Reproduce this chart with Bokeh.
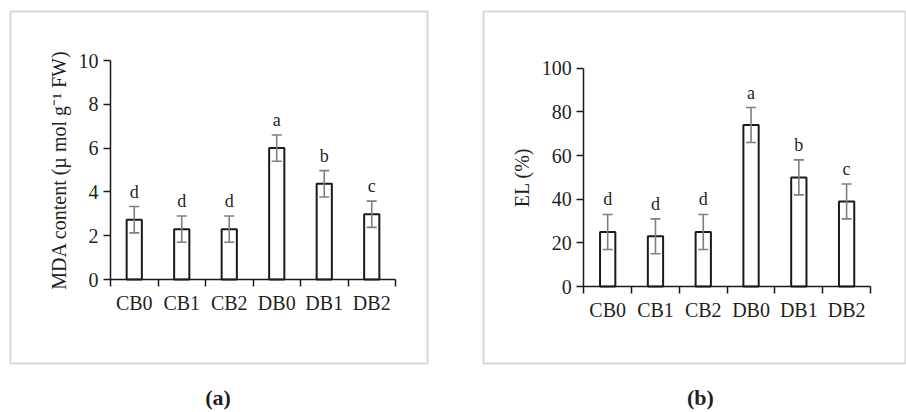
from bokeh.plotting import figure
from bokeh.layouts import row, column
from bokeh.models import (ColumnDataSource, Range1d, FixedTicker, Whisker, TeeHead, Div)
from bokeh.core.properties import value
from bokeh.embed import file_html
from bokeh.resources import INLINE

# Treatments
categories = ["CB0", "CB1", "CB2", "DB0", "DB1", "DB2"]

# (a) MDA content
mda_mean = [2.73, 2.30, 2.30, 6.00, 4.37, 2.98]
mda_err = [0.6, 0.6, 0.6, 0.6, 0.6, 0.6]
mda_letters = ["d", "d", "d", "a", "b", "c"]
mda_ticks = [0, 2, 4, 6, 8, 10]

# (b) Electrolyte leakage
el_mean = [25, 23, 25, 74, 50, 39]
el_err = [8, 8, 8, 8, 8, 8]
el_letters = ["d", "d", "d", "a", "b", "c"]
el_ticks = [0, 20, 40, 60, 80, 100]

FONT = "Liberation Serif"
TEXT = "#1f1f1f"
AXIS = "#1a1a1a"
H = 376        # chart area; the panel tags sit in a strip below it
TAG_H = 36


def panel(means, errs, letters, yticks, ylabel, width, box, axes_px):
    """box: light frame (left, right, top, bottom) in canvas px;
    axes_px: where the value axes sit (left, right, top, bottom) in canvas px."""
    bl, br, bt, bb = box
    al, ar, at, ab = axes_px
    n = len(categories)
    ymin, ymax = yticks[0], yticks[-1]

    # extend the data ranges so the frame fills the light box while the
    # axes stay at their own positions inside it
    sx = (ar - al) / n
    sy = (ab - at) / (ymax - ymin)
    x_range = Range1d(-(al - bl) / sx, n + (br - ar) / sx)
    y_range = Range1d(ymin - (bb - ab) / sy, ymax + (at - bt) / sy)

    pos = [i + 0.5 for i in range(n)]
    src = ColumnDataSource(dict(
        x=pos, mean=means,
        upper=[m + e for m, e in zip(means, errs)],
        lower=[m - e for m, e in zip(means, errs)],
        letter=letters,
    ))
    p = figure(width=width, height=H, output_backend="svg", toolbar_location=None,
               x_range=x_range, y_range=y_range,
               min_border_left=bl, min_border_right=width - br,
               min_border_top=bt, min_border_bottom=H - bb)
    p.outline_line_color = "#d9d9d9"
    p.outline_line_width = 2
    p.background_fill_color = "white"
    p.border_fill_color = "white"
    p.grid.visible = False

    p.vbar(x="x", top="mean", bottom=0, width=0.32, source=src,
           fill_color="white", line_color=AXIS, line_width=2)
    whisk_col = "#7f7f7f"
    p.add_layout(Whisker(source=src, base="x", upper="upper", lower="lower",
                         line_color=whisk_col, line_width=1.6, level="overlay",
                         upper_head=TeeHead(size=10, line_color=whisk_col, line_width=1.6),
                         lower_head=TeeHead(size=10, line_color=whisk_col, line_width=1.6)))
    p.text(x="x", y="upper", text="letter", source=src,
           text_font=value(FONT), text_font_size="18px", text_color=TEXT,
           text_align="center", text_baseline="bottom", y_offset=-5)

    # x axis: category names at bar centres, tick marks at the boundaries
    xa = p.xaxis[0]
    xa.fixed_location = ymin
    xa.bounds = (0, n)
    xa.ticker = FixedTicker(ticks=pos, minor_ticks=list(range(n + 1)))
    xa.major_label_overrides = {x: c for x, c in zip(pos, categories)}
    xa.major_tick_line_alpha = 0
    xa.major_tick_out = 7
    xa.major_tick_in = 0
    xa.minor_tick_out = 7
    xa.minor_tick_in = 0
    xa.minor_tick_line_color = AXIS
    xa.minor_tick_line_width = 1.5
    xa.major_label_standoff = 5

    ya = p.yaxis[0]
    ya.fixed_location = 0
    ya.bounds = (ymin, ymax)
    ya.ticker = FixedTicker(ticks=yticks, minor_ticks=[])
    ya.major_tick_out = 7
    ya.major_tick_in = 0
    ya.major_tick_line_color = AXIS
    ya.major_tick_line_width = 1.5
    ya.major_label_standoff = 5
    ya.axis_label = ylabel
    ya.axis_label_standoff = 6

    for ax in (xa, ya):
        ax.axis_line_color = AXIS
        ax.axis_line_width = 1.5
        ax.major_label_text_font = FONT
        ax.major_label_text_font_size = "20px"
        ax.major_label_text_color = TEXT
        ax.axis_label_text_font = FONT
        ax.axis_label_text_font_size = "20px"
        ax.axis_label_text_font_style = "normal"
        ax.axis_label_text_color = TEXT
    return p


def tag(text, width, pad_left, pad_right):
    html = (f'<div style="box-sizing:border-box;width:{width}px;'
            f'padding:9px {pad_right}px 0 {pad_left}px;text-align:center;'
            f"font:bold 22px '{FONT}';line-height:26px;color:{TEXT}\">{text}</div>")
    return Div(text=html, width=width, height=TAG_H, margin=0)


pa = panel(mda_mean, mda_err, mda_letters, mda_ticks,
           "MDA content (µ mol g⁻¹ FW)", width=449,
           box=(10, 427, 11, 363), axes_px=(110, 395, 60, 279))
pb = panel(el_mean, el_err, el_letters, el_ticks,
           "EL (%)", width=457,
           box=(34, 457, 7, 367), axes_px=(134.3, 421, 65, 288.3))

layout = column(row(pa, pb), row(tag("(a)", 449, 0, 13), tag("(b)", 457, 46, 0)),
                spacing=0)
open("out.html", "w").write(file_html(layout, INLINE))
